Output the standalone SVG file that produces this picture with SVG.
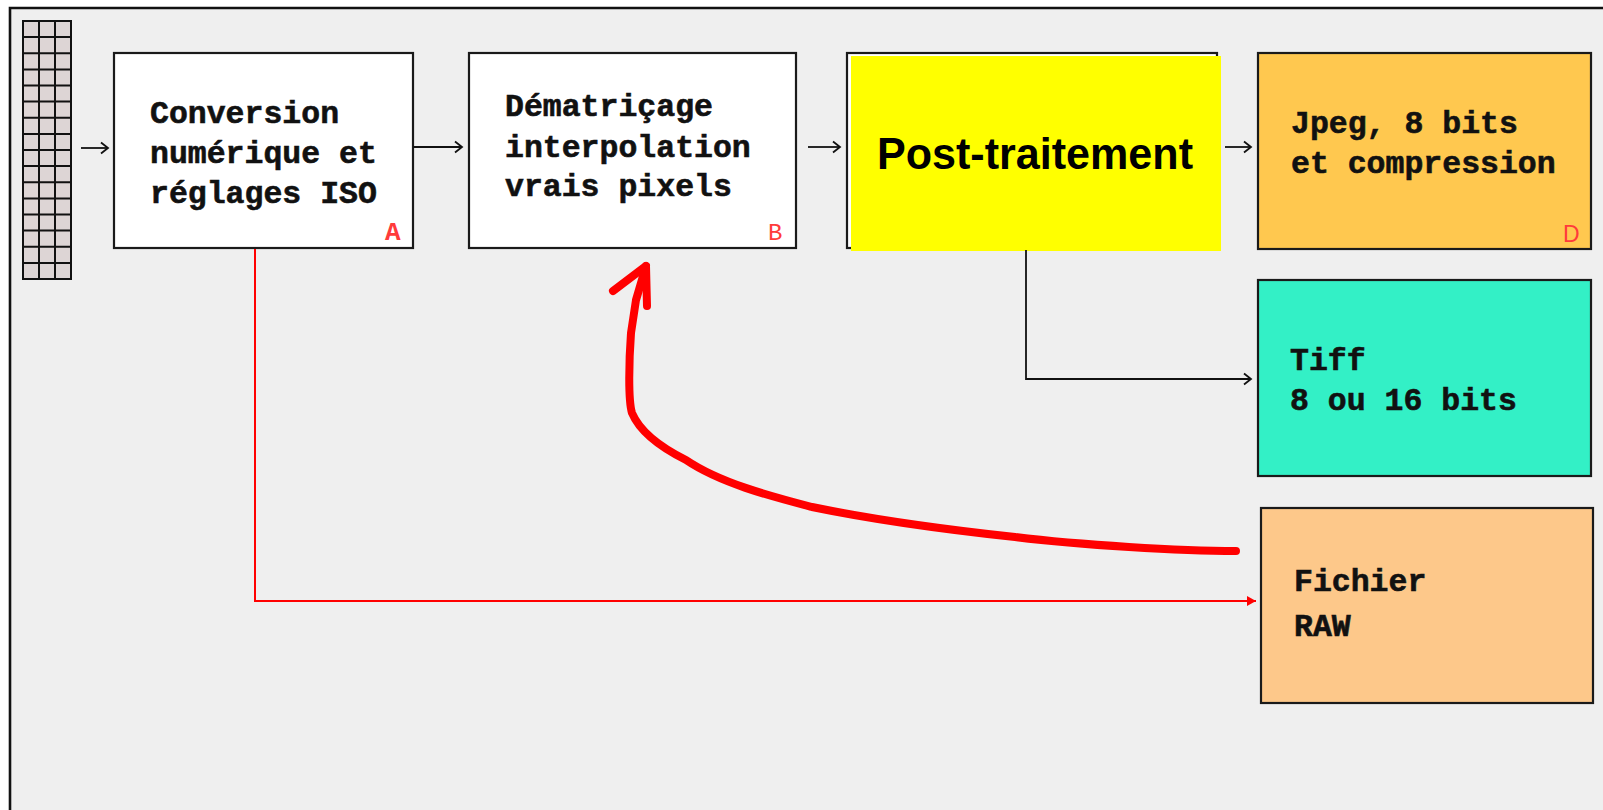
<svg xmlns="http://www.w3.org/2000/svg" width="1603" height="810" viewBox="0 0 1603 810">
<defs>
<style>
.box{stroke:#1a1a1a;stroke-width:2.2}
.t{font-family:"Liberation Mono","Courier New",monospace;font-weight:bold;font-size:31.5px;fill:#111;stroke:#111;stroke-width:0.6}
.lbl{fill:#ff3b3b}
.con{fill:none;stroke:#111;stroke-width:1.8}
</style>
<marker id="oa" markerUnits="userSpaceOnUse" markerWidth="14" markerHeight="16" refX="9" refY="6" orient="auto" overflow="visible">
<path d="M2,0.5 L9,6 L2,11.5" fill="none" stroke="#111" stroke-width="1.8"/>
</marker>
<marker id="ra" markerUnits="userSpaceOnUse" markerWidth="12" markerHeight="12" refX="9" refY="5" orient="auto" overflow="visible">
<path d="M0,0 L9,5 L0,10 z" fill="#ff0000"/>
</marker>
</defs>
<rect x="0" y="0" width="1603" height="810" fill="#ffffff"/>
<rect x="10" y="8" width="1593" height="802" fill="#efefef"/>
<path d="M10,810 V8 H1603" fill="none" stroke="#111" stroke-width="2.6"/>

<g id="sensor">
<rect x="23" y="21" width="48" height="258" fill="#ddd5d5" stroke="#111" stroke-width="2"/>
<path d="M39,21V279M55,21V279M23,37.1H71M23,53.3H71M23,69.4H71M23,85.5H71M23,101.6H71M23,117.8H71M23,133.9H71M23,150H71M23,166.1H71M23,182.3H71M23,198.4H71M23,214.5H71M23,230.6H71M23,246.8H71M23,262.9H71" stroke="#111" stroke-width="2" fill="none"/>
</g>

<g id="nodeA">
<rect class="box" x="114" y="53" width="299" height="195" fill="#ffffff"/>
<text class="t" x="150" y="122.5">Conversion</text>
<text class="t" x="150" y="163">numérique et</text>
<text class="t" x="150" y="203">réglages ISO</text>
<text class="lbl" x="385" y="239.5" font-family="Liberation Mono, monospace" font-weight="bold" font-size="26">A</text>
</g>

<g id="nodeB">
<rect class="box" x="469" y="53" width="327" height="195" fill="#ffffff"/>
<text class="t" x="505" y="116">Dématriçage</text>
<text class="t" x="505" y="156.5">interpolation</text>
<text class="t" x="505" y="196">vrais pixels</text>
<text class="lbl" x="768" y="240" font-family="Liberation Mono, monospace" font-size="24">B</text>
</g>

<g id="nodeC">
<rect class="box" x="847" y="53" width="370" height="195" fill="#ffffff"/>
<rect x="851" y="56" width="370" height="195" fill="#ffff00"/>
<text x="877" y="169" font-family="Liberation Sans, Arial, sans-serif" font-weight="bold" font-size="45" textLength="316" lengthAdjust="spacingAndGlyphs" fill="#000">Post-traitement</text>
</g>

<g id="nodeD">
<rect class="box" x="1258" y="53" width="333" height="196" fill="#ffc84f"/>
<text class="t" x="1291" y="133">Jpeg, 8 bits</text>
<text class="t" x="1291" y="173">et compression</text>
<text class="lbl" x="1563" y="242" font-family="Liberation Sans, Arial, sans-serif" font-size="23">D</text>
</g>

<g id="nodeTiff">
<rect class="box" x="1258" y="280" width="333" height="196" fill="#33f0c6"/>
<text class="t" x="1290" y="370">Tiff</text>
<text class="t" x="1290" y="410">8 ou 16 bits</text>
</g>

<g id="nodeRaw">
<rect class="box" x="1261" y="508" width="332" height="195" fill="#fdc88a"/>
<text class="t" x="1294" y="591">Fichier</text>
<text class="t" x="1294" y="636">RAW</text>
</g>

<g id="connectors">
<path class="con" d="M81,148 H108" marker-end="url(#oa)"/>
<path class="con" d="M413,147 H462" marker-end="url(#oa)"/>
<path class="con" d="M808,147 H840" marker-end="url(#oa)"/>
<path class="con" d="M1225,147 H1251" marker-end="url(#oa)"/>
<path class="con" d="M1026,250 V379 H1251" marker-end="url(#oa)"/>
<path d="M255,249 V601 H1256" fill="none" stroke="#ff0000" stroke-width="2" marker-end="url(#ra)"/>
<path d="M1236,551 C1180,551 1080,545 1015,537 C950,530 880,521 812,507 C770,496 720,483 686,460 C660,447 640,432 632,413 C628,400 629,360 631,333 L636,300 L646,266" fill="none" stroke="#ff0000" stroke-width="8" stroke-linecap="round" stroke-linejoin="round"/>
<path d="M613,291 L646,266 L647,306" fill="none" stroke="#ff0000" stroke-width="8" stroke-linecap="round" stroke-linejoin="round"/>
</g>
</svg>
